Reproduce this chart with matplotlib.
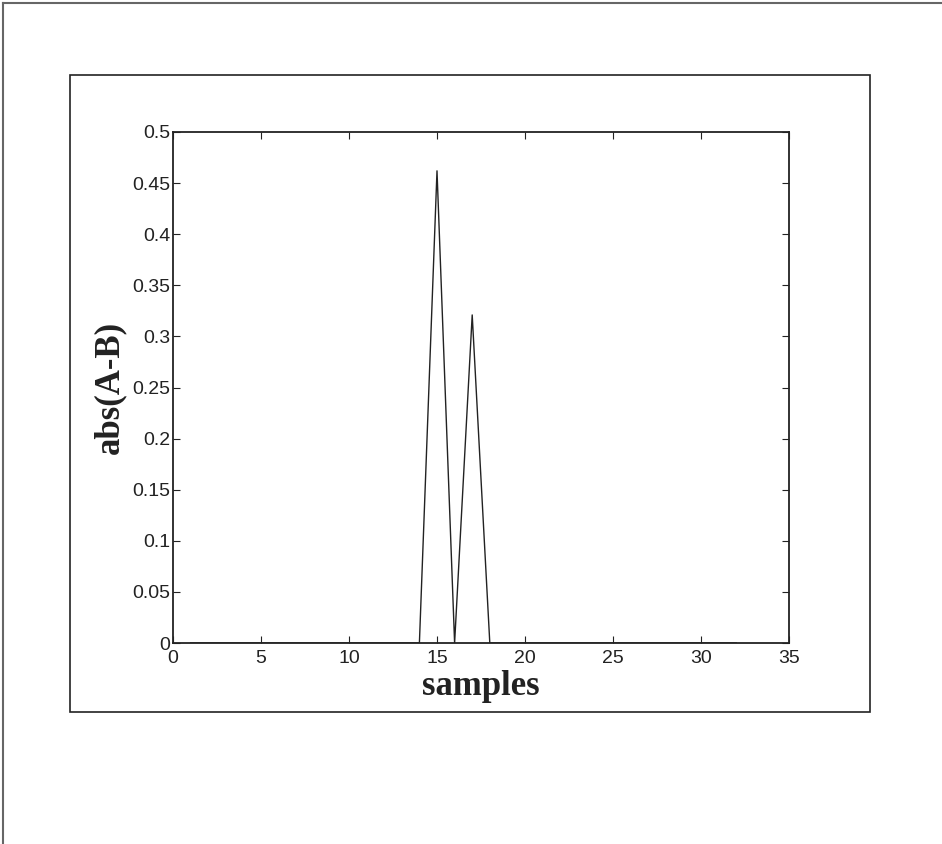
import numpy as np
import matplotlib
matplotlib.use("Agg")
from matplotlib import pyplot as plt
from matplotlib.patches import Rectangle
from matplotlib.lines import Line2D


# samples 1..32, difference is zero except around sample 15-17
samples = np.arange(1, 33)
abs_diff = np.zeros(32)
abs_diff[14] = 0.462   # sample 15
abs_diff[16] = 0.321   # sample 17

x_ticks = [0, 5, 10, 15, 20, 25, 30, 35]
y_ticks = [0, 0.05, 0.1, 0.15, 0.2, 0.25, 0.3, 0.35, 0.4, 0.45, 0.5]
y_tick_labels = ['0', '0.05', '0.1', '0.15', '0.2', '0.25', '0.3', '0.35', '0.4', '0.45', '0.5']

W, H = 942, 844
fig = plt.figure(figsize=(W / 100, H / 100), dpi=100)

# outer page border (left and top edges only visible)
fig.add_artist(Line2D([3 / W, 3 / W], [0, 1 - 3 / H], transform=fig.transFigure,
                      color='#666666', lw=1.5))
fig.add_artist(Line2D([3 / W, 1], [1 - 3 / H, 1 - 3 / H], transform=fig.transFigure,
                      color='#666666', lw=1.5))

# inner figure frame
fig.add_artist(Rectangle((70 / W, 1 - 712 / H), 800 / W, 637 / H, transform=fig.transFigure,
                         fill=False, edgecolor='#222222', lw=1.2))

ax = fig.add_axes([173 / W, 1 - 643 / H, 616 / W, 511 / H])
ax.plot(samples, abs_diff, color='#222222', lw=1.0)

ax.set_xlim(0, 35)
ax.set_ylim(0, 0.5)
ax.set_xticks(x_ticks)
ax.set_yticks(y_ticks)
ax.set_yticklabels(y_tick_labels)
ax.tick_params(direction='in', top=True, right=True, length=5, width=0.8,
               labelsize=14, colors='#222222')
ax.tick_params(axis='x', pad=5)
ax.tick_params(axis='y', pad=2)
for lab in ax.get_xticklabels() + ax.get_yticklabels():
    lab.set_fontfamily('Liberation Sans')
for sp in ax.spines.values():
    sp.set_linewidth(1.3)
    sp.set_color('#222222')

ax.set_xlabel('samples', fontfamily='Liberation Serif', fontweight='bold',
              fontsize=25, labelpad=2, color='#222222')
ax.set_ylabel('abs(A-B)', fontfamily='Liberation Serif', fontweight='bold',
              fontsize=25, labelpad=4, color='#222222')

fig.savefig('out.png', dpi=100)
